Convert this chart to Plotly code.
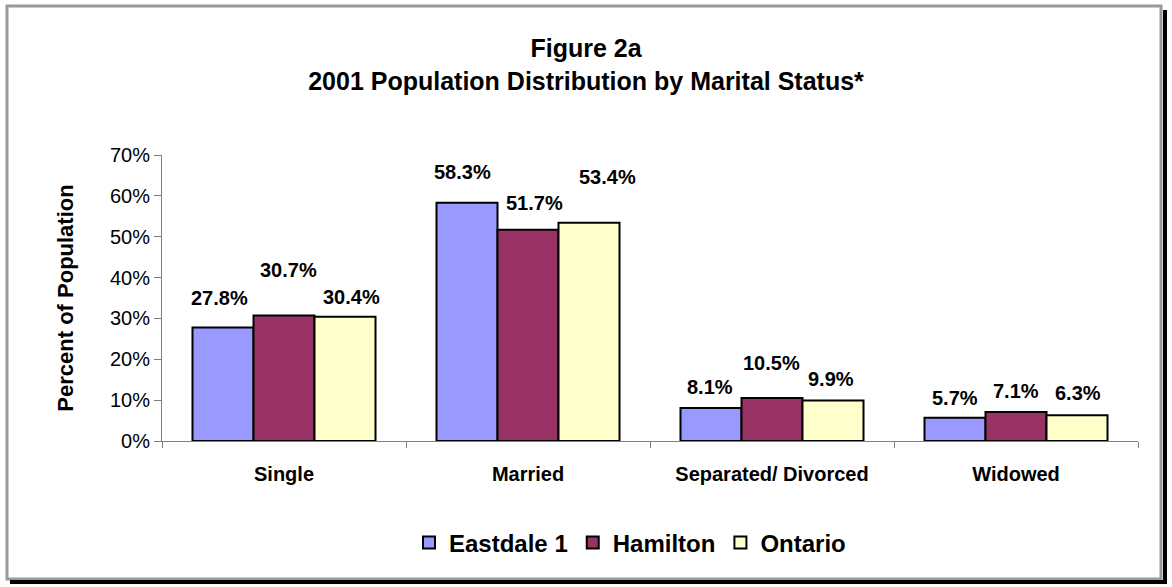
import plotly.graph_objects as go

categories = ["Single", "Married", "Separated/ Divorced", "Widowed"]
eastdale = [27.8, 58.3, 8.1, 5.7]
hamilton = [30.7, 51.7, 10.5, 7.1]
ontario = [30.4, 53.4, 9.9, 6.3]
series_names = ["Eastdale 1", "Hamilton", "Ontario"]
series_values = [eastdale, hamilton, ontario]
series_colors = ["#9999FF", "#993366", "#FFFFCC"]
y_ticks = [0, 10, 20, 30, 40, 50, 60, 70]

# label placement tweaks (pixels): per series, per category
label_dx = [[-4, -5, -1, 0], [4, 6, -1, 0], [6, 18, -2, 1]]
label_dy = [[29, 31, 21, 20], [46, 27, 35, 21], [20, 46, 22, 22]]
series_px_offset = [-61, 0, 61]

FONT = "Liberation Sans, Arial, sans-serif"
W, H = 1172, 587
L, R, T, B = 162, 34, 155, 146
PW, PH = W - L - R, H - T - B

def fx(px):
    return (px - L) / PW

def fy(py):
    return (H - B - py) / PH

fig = go.Figure()
for name, vals, col in zip(series_names, series_values, series_colors):
    fig.add_trace(go.Bar(
        x=categories, y=vals, name=name,
        marker=dict(color=col, line=dict(color="black", width=2)),
    ))

annotations = []
for si, vals in enumerate(series_values):
    for ci, v in enumerate(vals):
        annotations.append(dict(
            x=categories[ci], y=v, xref="x", yref="y",
            text=f"<b>{v:.1f}%</b>", showarrow=False,
            xshift=series_px_offset[si] + label_dx[si][ci],
            yshift=label_dy[si][ci],
            xanchor="center", yanchor="middle",
            font=dict(family=FONT, size=20, color="black"),
        ))

shapes = [
    # gray frame
    dict(type="rect", xref="paper", yref="paper",
         x0=fx(7), x1=fx(1161), y0=fy(579), y1=fy(6),
         line=dict(color="#9a9a9a", width=3), layer="below"),
    # shadow right
    dict(type="line", xref="paper", yref="paper",
         x0=fx(1165), x1=fx(1165), y0=fy(584), y1=fy(10),
         line=dict(color="black", width=4)),
    # shadow bottom
    dict(type="line", xref="paper", yref="paper",
         x0=fx(10), x1=fx(1167), y0=fy(582), y1=fy(582),
         line=dict(color="black", width=4)),
]

fig.update_layout(
    width=W, height=H,
    margin=dict(l=L, r=R, t=T, b=B, autoexpand=False),
    paper_bgcolor="white", plot_bgcolor="white",
    barmode="group", bargap=0.25, bargroupgap=0,
    font=dict(family=FONT, color="black"),
    title=dict(
        text="<b>Figure 2a<br>2001 Population Distribution by Marital Status*</b>",
        x=0.5, xref="container", xanchor="center",
        y=1 - 57 / H, yref="container", yanchor="top",
        font=dict(family=FONT, size=25, color="black"),
    ),
    xaxis=dict(
        showline=True, linecolor="#808080", linewidth=1,
        ticks="outside", tickson="boundaries", ticklen=6, tickcolor="#808080",
        tickfont=dict(family=FONT, size=20, color="black", weight="bold"),
        ticklabelstandoff=15,
        showgrid=False, zeroline=False,
    ),
    yaxis=dict(
        range=[0, 70], tickvals=y_ticks, ticktext=[f"{t}%" for t in y_ticks],
        showline=True, linecolor="#808080", linewidth=1,
        ticks="outside", ticklen=7, tickcolor="#808080",
        tickfont=dict(family=FONT, size=20, color="black"),
        showgrid=False, zeroline=False,
        title=dict(text="<b>Percent of Population</b>", standoff=30,
                   font=dict(family=FONT, size=22, color="black")),
    ),
    legend=dict(
        orientation="h", x=fx(630), xanchor="center",
        y=fy(543), yanchor="middle",
        font=dict(family=FONT, size=24, color="black", weight="bold"),
        traceorder="normal",
    ),
    annotations=annotations,
    shapes=shapes,
)

fig.write_html(
    "out.html",
    config={"displayModeBar": False},
    post_script="document.body.style.margin='0';document.body.style.overflow='hidden';",
)
